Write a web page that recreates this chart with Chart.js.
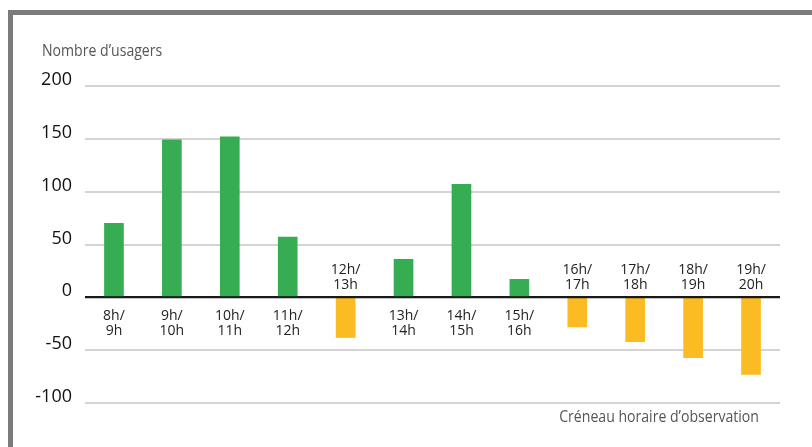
<!DOCTYPE html>
<html>
<head>
<meta charset="utf-8">
<script src="https://cdn.jsdelivr.net/npm/chart.js@4"></script>
<style>
    body { margin: 0; background: #fff; }
    #wrap { position: relative; width: 812px; height: 447px; overflow: hidden; }
    #frame { position: absolute; left: 8px; top: 10px; right: 0; bottom: -10px; border-top: 5px solid #7b7b7b; border-left: 5px solid #7b7b7b; }
    #chart { position: absolute; left: 0; top: 0; }
    .axisTitle { position: absolute; font-family: 'Open Sans', sans-serif; font-size: 16px; color: #555; white-space: nowrap; transform: scaleX(0.88); }
</style>
</head>
<body>
<div id="wrap">
    <div id="frame"></div>
    <canvas id="chart" width="812" height="447"></canvas>
    <div class="axisTitle" style="left: 42px; top: 39px; transform-origin: left center;">Nombre d’usagers</div>
    <div class="axisTitle" style="right: 53px; top: 405px; transform-origin: right center;">Créneau horaire d’observation</div>
</div>
<script>
// Time slots and user balance per slot
const slots = [
    ['8h/', '9h'], ['9h/', '10h'], ['10h/', '11h'], ['11h/', '12h'],
    ['12h/', '13h'], ['13h/', '14h'], ['14h/', '15h'], ['15h/', '16h'],
    ['16h/', '17h'], ['17h/', '18h'], ['18h/', '19h'], ['19h/', '20h']
];
const usagers = [70, 149, 152, 57, -38, 36, 107, 17, -28, -42, -57, -73];
const yTicks = [-100, -50, 0, 50, 100, 150, 200];

const GREEN = '#37ad53';
const YELLOW = '#fbbb22';

// slot labels sit on the other side of the zero line from the bar
const slotLabels = {
    id: 'slotLabels',
    afterDatasetsDraw(chart) {
        const { ctx, scales: { x, y } } = chart;
        const y0 = y.getPixelForValue(0);

        ctx.save();
        ctx.strokeStyle = '#1a1a1a';
        ctx.lineWidth = 2;
        ctx.beginPath();
        ctx.moveTo(chart.chartArea.left, y0);
        ctx.lineTo(chart.chartArea.right, y0);
        ctx.stroke();

        ctx.font = '14px "Open Sans", sans-serif';
        ctx.fillStyle = '#222';
        ctx.textAlign = 'center';
        ctx.textBaseline = 'middle';
        slots.forEach((lines, i) => {
            const px = x.getPixelForValue(i);
            const start = usagers[i] >= 0 ? y0 + 19 : y0 - 27;
            lines.forEach((t, k) => ctx.fillText(t, px, start + k * 15));
        });
        ctx.restore();
    }
};

new Chart(document.getElementById('chart'), {
    type: 'bar',
    data: {
        labels: slots.map(s => s.join(' ')),
        datasets: [{
            data: usagers,
            backgroundColor: usagers.map(v => v >= 0 ? GREEN : YELLOW),
            barThickness: 19
        }]
    },
    options: {
        responsive: false,
        devicePixelRatio: 1,
        animation: false,
        layout: { padding: { left: 0, right: 32, top: 86, bottom: 44 } },
        plugins: { legend: { display: false }, tooltip: { enabled: false } },
        scales: {
            x: { display: false },
            y: {
                min: -100,
                max: 200,
                afterBuildTicks: s => { s.ticks = yTicks.map(v => ({ value: v })); },
                afterFit: s => { s.width = 85; },
                border: { display: false },
                grid: {
                    drawTicks: false,
                    lineWidth: 2,
                    color: c => c.tick && c.tick.value === 0 ? '#1a1a1a' : '#d4d4d4'
                },
                ticks: {
                    padding: 13,
                    labelOffset: -6,
                    color: '#111',
                    font: { family: '"Open Sans", sans-serif', size: 18 }
                }
            }
        }
    },
    plugins: [slotLabels]
});
</script>
</body>
</html>
